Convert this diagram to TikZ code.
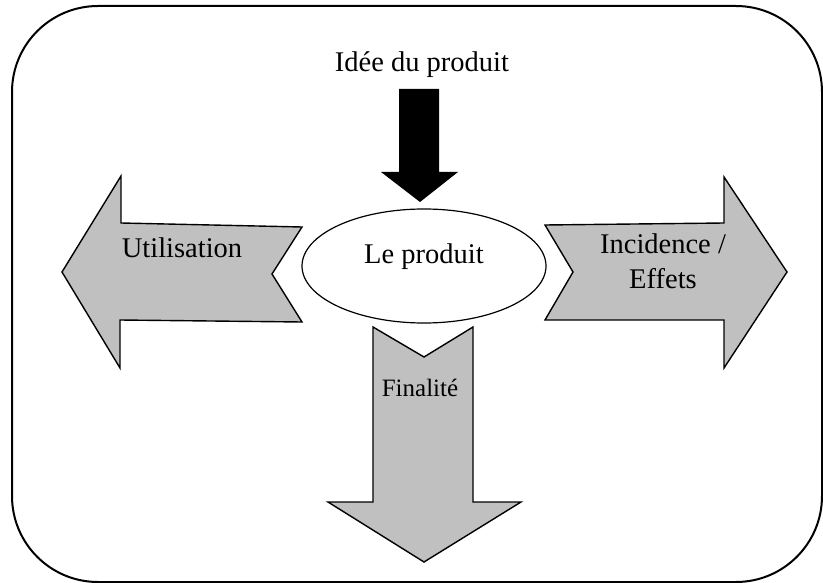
\documentclass[tikz,border=0pt]{standalone}
\usepackage{fontspec}
\setmainfont{Liberation Serif}
\usetikzlibrary{shapes.geometric}
\definecolor{arrowgray}{RGB}{192,192,192}
\tikzset{
  bigarrow/.style={draw=black, line width=1.4bp, fill=arrowgray, line join=miter},
  label/.style={font=\fontsize{28.5bp}{35bp}\selectfont, inner sep=0pt, align=center},
  small/.style={font=\fontsize{25bp}{30bp}\selectfont, inner sep=0pt},
}
\begin{document}
\begin{tikzpicture}[x=1bp, y=-1bp]
\useasboundingbox (0,0) rectangle (823,583);
% frame
\draw[line width=2bp, rounded corners=86bp] (12,6) rectangle (822,582);

% input arrow (black)
\fill[black] (399,89) -- (439,89) -- (439,172) -- (458,172) -- (420,202) -- (381,172) -- (399,172) -- cycle;
\node[label] (idee) at (422,65) {Idée du produit};

% central ellipse
\node[draw, line width=1.2bp, ellipse, minimum width=244bp, minimum height=114bp, inner sep=0pt] (prod) at (424,266) {};
\node[label] (prodtxt) at (424,257) {Le produit};

% left arrow
\draw[bigarrow] (62,272) -- (121,176) -- (121,223) -- (302,227) -- (272,274) -- (302,322) -- (120,320) -- (120,368) -- cycle;
\node[label] (util) at (182,248) {Utilisation};

% right arrow
\draw[bigarrow] (545,225) -- (724,223) -- (724,177) -- (787,272) -- (724,368) -- (724,320) -- (545,320) -- (573,272) -- cycle;
\node[label] (incid) at (663,261) {Incidence /\\Effets};

% down arrow
\draw[bigarrow] (373,327) -- (424,357) -- (473,327) -- (473,502) -- (521,502) -- (424,562) -- (328,502) -- (373,502) -- cycle;
\node[small] (fin) at (420,388) {Finalité};
\end{tikzpicture}
\end{document}
